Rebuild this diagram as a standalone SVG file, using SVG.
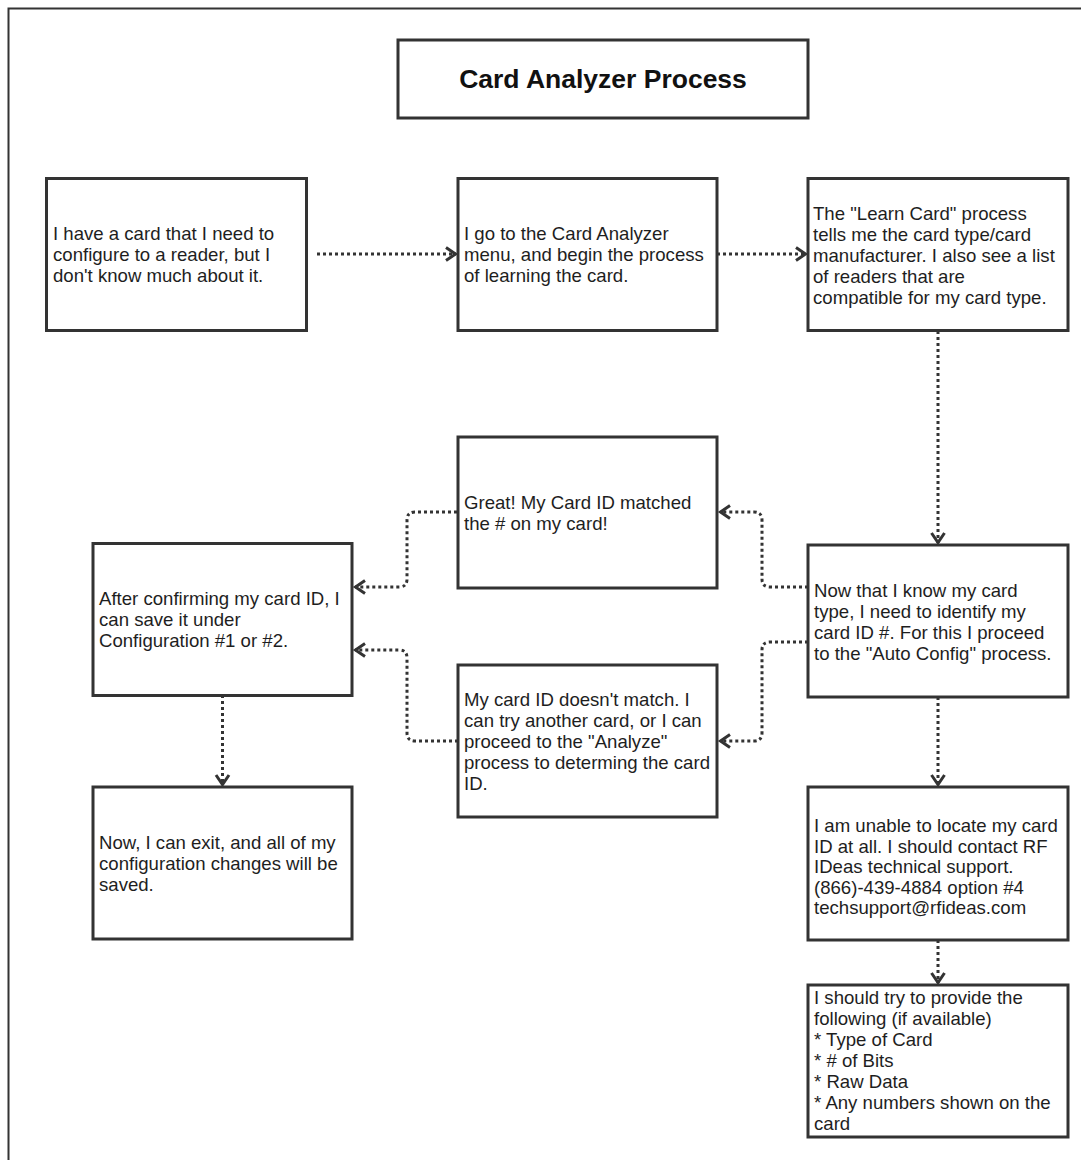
<svg xmlns="http://www.w3.org/2000/svg" width="1081" height="1160" viewBox="0 0 1081 1160">
  <style>
    .box { fill: #ffffff; stroke: #333333; stroke-width: 3; }
    .txt { font-family: "Liberation Sans", Arial, Helvetica, sans-serif; font-size: 18.6px; fill: #1e1e1e; }
    .title { font-family: "Liberation Sans", Arial, Helvetica, sans-serif; font-size: 26.5px; font-weight: bold; fill: #111111; }
    .conn { fill: none; stroke: #333333; stroke-width: 3; stroke-dasharray: 3 3; marker-end: url(#arrow); }
  </style>
  <defs>
    <marker id="arrow" markerUnits="userSpaceOnUse" viewBox="-13 -9 16 18" refX="0" refY="0" markerWidth="16" markerHeight="18" orient="auto">
      <path d="M-10,-6.5 L-0.5,0 L-10,6.5" fill="none" stroke="#333333" stroke-width="3" stroke-linejoin="miter"/>
    </marker>
  </defs>
  <rect width="1081" height="1160" fill="#ffffff"/>
  <path d="M8.5,1160 V8.5 H1081" fill="none" stroke="#333333" stroke-width="2"/>

  <g id="connectors">
    <path class="conn" d="M317,254 H456"/>
    <path class="conn" d="M717,254 H806"/>
    <path class="conn" d="M938,331 V543"/>
    <path class="conn" d="M808,587 H770 Q762,587 762,579 V520 Q762,512 754,512 H720"/>
    <path class="conn" d="M808,642 H770 Q762,642 762,650 V733 Q762,741 754,741 H720"/>
    <path class="conn" d="M457,512 H415 Q407,512 407,520 V579 Q407,587 399,587 H355"/>
    <path class="conn" d="M458,741 H415 Q407,741 407,733 V658 Q407,650 399,650 H355"/>
    <path class="conn" d="M222.5,695 V785"/>
    <path class="conn" d="M938,697 V785"/>
    <path class="conn" d="M938,940 V983"/>
  </g>

  <g id="title">
    <rect class="box" x="398" y="40" width="410" height="78"/>
    <text class="title" x="603" y="88" text-anchor="middle">Card Analyzer Process</text>
  </g>

  <g id="have-card">
    <rect class="box" x="46.5" y="178.5" width="260" height="152"/>
    <text class="txt" x="53" y="240">
      <tspan x="53">I have a card that I need to</tspan>
      <tspan x="53" dy="21">configure to a reader, but I</tspan>
      <tspan x="53" dy="21">don't know much about it.</tspan>
    </text>
  </g>

  <g id="go-analyzer">
    <rect class="box" x="458" y="178.5" width="259" height="152"/>
    <text class="txt" x="464" y="240">
      <tspan x="464">I go to the Card Analyzer</tspan>
      <tspan x="464" dy="21">menu, and begin the process</tspan>
      <tspan x="464" dy="21">of learning the card.</tspan>
    </text>
  </g>

  <g id="learn-card">
    <rect class="box" x="808" y="178.5" width="260" height="152"/>
    <text class="txt" x="813" y="219.5">
      <tspan x="813">The "Learn Card" process</tspan>
      <tspan x="813" dy="21">tells me the card type/card</tspan>
      <tspan x="813" dy="21">manufacturer. I also see a list</tspan>
      <tspan x="813" dy="21">of readers that are</tspan>
      <tspan x="813" dy="21">compatible for my card type.</tspan>
    </text>
  </g>

  <g id="great">
    <rect class="box" x="458" y="437" width="259" height="151"/>
    <text class="txt" x="464" y="509">
      <tspan x="464">Great! My Card ID matched</tspan>
      <tspan x="464" dy="21">the # on my card!</tspan>
    </text>
  </g>

  <g id="after-confirming">
    <rect class="box" x="93" y="543.5" width="259" height="152"/>
    <text class="txt" x="99" y="605">
      <tspan x="99">After confirming my card ID, I</tspan>
      <tspan x="99" dy="21">can save it under</tspan>
      <tspan x="99" dy="21">Configuration #1 or #2.</tspan>
    </text>
  </g>

  <g id="no-match">
    <rect class="box" x="458" y="665" width="259" height="152"/>
    <text class="txt" x="464" y="706">
      <tspan x="464">My card ID doesn't match. I</tspan>
      <tspan x="464" dy="21">can try another card, or I can</tspan>
      <tspan x="464" dy="21">proceed to the "Analyze"</tspan>
      <tspan x="464" dy="21">process to determing the card</tspan>
      <tspan x="464" dy="21">ID.</tspan>
    </text>
  </g>

  <g id="now-know">
    <rect class="box" x="808" y="545" width="260" height="152"/>
    <text class="txt" x="814" y="596.5">
      <tspan x="814">Now that I know my card</tspan>
      <tspan x="814" dy="21">type, I need to identify my</tspan>
      <tspan x="814" dy="21">card ID #. For this I proceed</tspan>
      <tspan x="814" dy="21">to the "Auto Config" process.</tspan>
    </text>
  </g>

  <g id="exit">
    <rect class="box" x="93" y="787" width="259" height="152"/>
    <text class="txt" x="99" y="849">
      <tspan x="99">Now, I can exit, and all of my</tspan>
      <tspan x="99" dy="21">configuration changes will be</tspan>
      <tspan x="99" dy="21">saved.</tspan>
    </text>
  </g>

  <g id="unable">
    <rect class="box" x="808" y="787" width="260" height="153"/>
    <text class="txt" x="814" y="832">
      <tspan x="814">I am unable to locate my card</tspan>
      <tspan x="814" dy="20.5">ID at all. I should contact RF</tspan>
      <tspan x="814" dy="20.5">IDeas technical support.</tspan>
      <tspan x="814" dy="20.5">(866)-439-4884 option #4</tspan>
      <tspan x="814" dy="20.5">techsupport@rfideas.com</tspan>
    </text>
  </g>

  <g id="provide">
    <rect class="box" x="808" y="985" width="260" height="152"/>
    <text class="txt" x="814" y="1004">
      <tspan x="814">I should try to provide the</tspan>
      <tspan x="814" dy="21">following (if available)</tspan>
      <tspan x="814" dy="21">* Type of Card</tspan>
      <tspan x="814" dy="21">* # of Bits</tspan>
      <tspan x="814" dy="21">* Raw Data</tspan>
      <tspan x="814" dy="21">* Any numbers shown on the</tspan>
      <tspan x="814" dy="21">card</tspan>
    </text>
  </g>
</svg>
